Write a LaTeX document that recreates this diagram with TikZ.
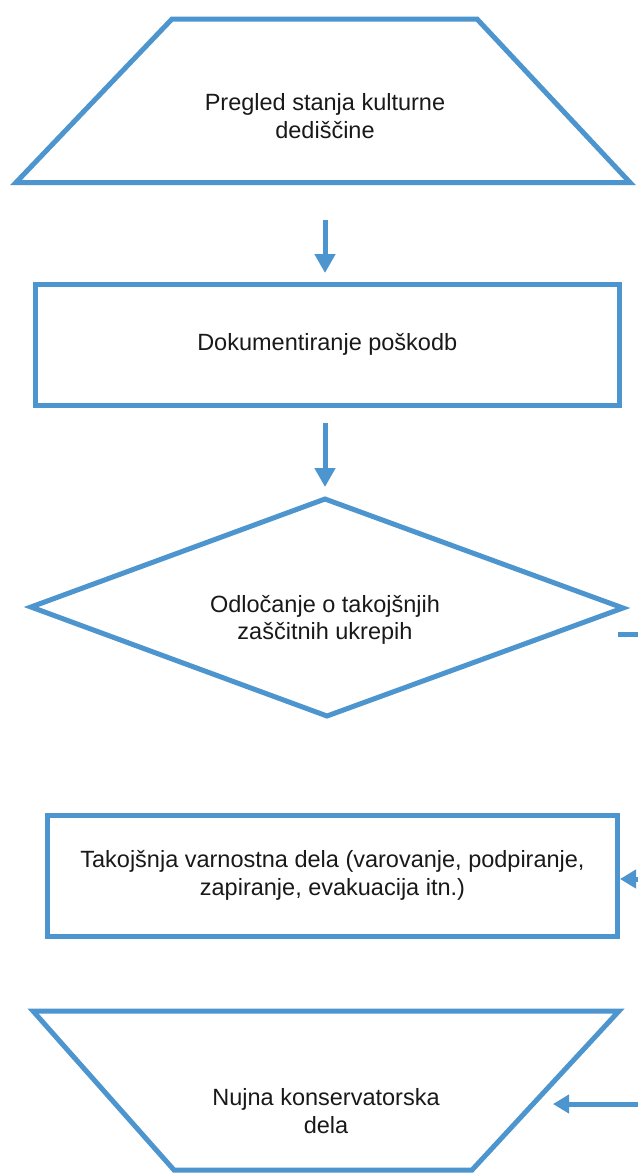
\documentclass[tikz,border=0pt]{standalone}
\usepackage{fontspec}
\setmainfont{Liberation Sans}
\usetikzlibrary{arrows.meta}
\definecolor{flow}{RGB}{76,149,206}
\definecolor{ink}{RGB}{25,25,25}
\begin{document}
\begin{tikzpicture}[x=1pt,y=-1pt,
  outline/.style={draw=flow, line width=5pt, line join=miter},
  box/.style={outline, rectangle, inner sep=0pt, align=center, text=ink, font=\fontsize{23.5}{27.5}\selectfont},
  txt/.style={inner sep=0pt, align=center, text=ink, font=\fontsize{23.5}{27.5}\selectfont},
  arr/.style={draw=flow, line width=5pt, -{Triangle[width=20pt,length=19pt]}},
  sidearr/.style={draw=flow, line width=5pt, -{Triangle[width=18pt,length=16pt]}}]
\useasboundingbox[fill=white] (0,0) rectangle (638,1175);

% top trapezoid
\draw[outline] (172,19) -- (477,19) -- (630,182.5) -- (16,182.5) -- cycle;
\coordinate (t1s) at (325,182.5);
\node[txt] (t1) at (325,116) {Pregled stanja kulturne\\dediščine};

% box 2
\node[box, minimum width=583.5pt, minimum height=121pt] (b2) at (327.25,344.5) {Dokumentiranje poškodb};

% diamond
\draw[outline] (325,499) coordinate (dn) -- (623,608) coordinate (de) -- (327,716) coordinate (ds) -- (31,607) coordinate (dw) -- cycle;
\node[txt] (t3) at (325,620) {Odločanje o takojšnjih\\zaščitnih ukrepih};

% box 3
\node[box, minimum width=570pt, minimum height=121pt] (b3) at (332.5,875.5) {Takojšnja varnostna dela (varovanje, podpiranje,\\zapiranje, evakuacija itn.)};

% bottom trapezoid
\draw[outline] (33,1011) -- (619,1011) -- (472,1170) -- (174,1170) -- cycle;
\node[txt] (t5) at (326,1111) {Nujna konservatorska\\dela};

% connectors
\draw[arr, shorten <=37.5pt, shorten >=8.5pt] (t1s) -- (t1s |- b2.north);
\draw[arr, shorten <=15.5pt, shorten >=12pt] (b2.south -| dn) -- (dn);

\coordinate (s0) at (618,634);
\coordinate (s1) at (638,634);
\draw[outline] (s0) -- (s1);

\coordinate (r2) at (638,879);
\draw[sidearr] (r2) -- (r2 -| b3.east);

\coordinate (r3) at (638,1104);
\coordinate (t5e) at (553,1104);
\draw[sidearr] (r3) -- (t5e);
\end{tikzpicture}
\end{document}
